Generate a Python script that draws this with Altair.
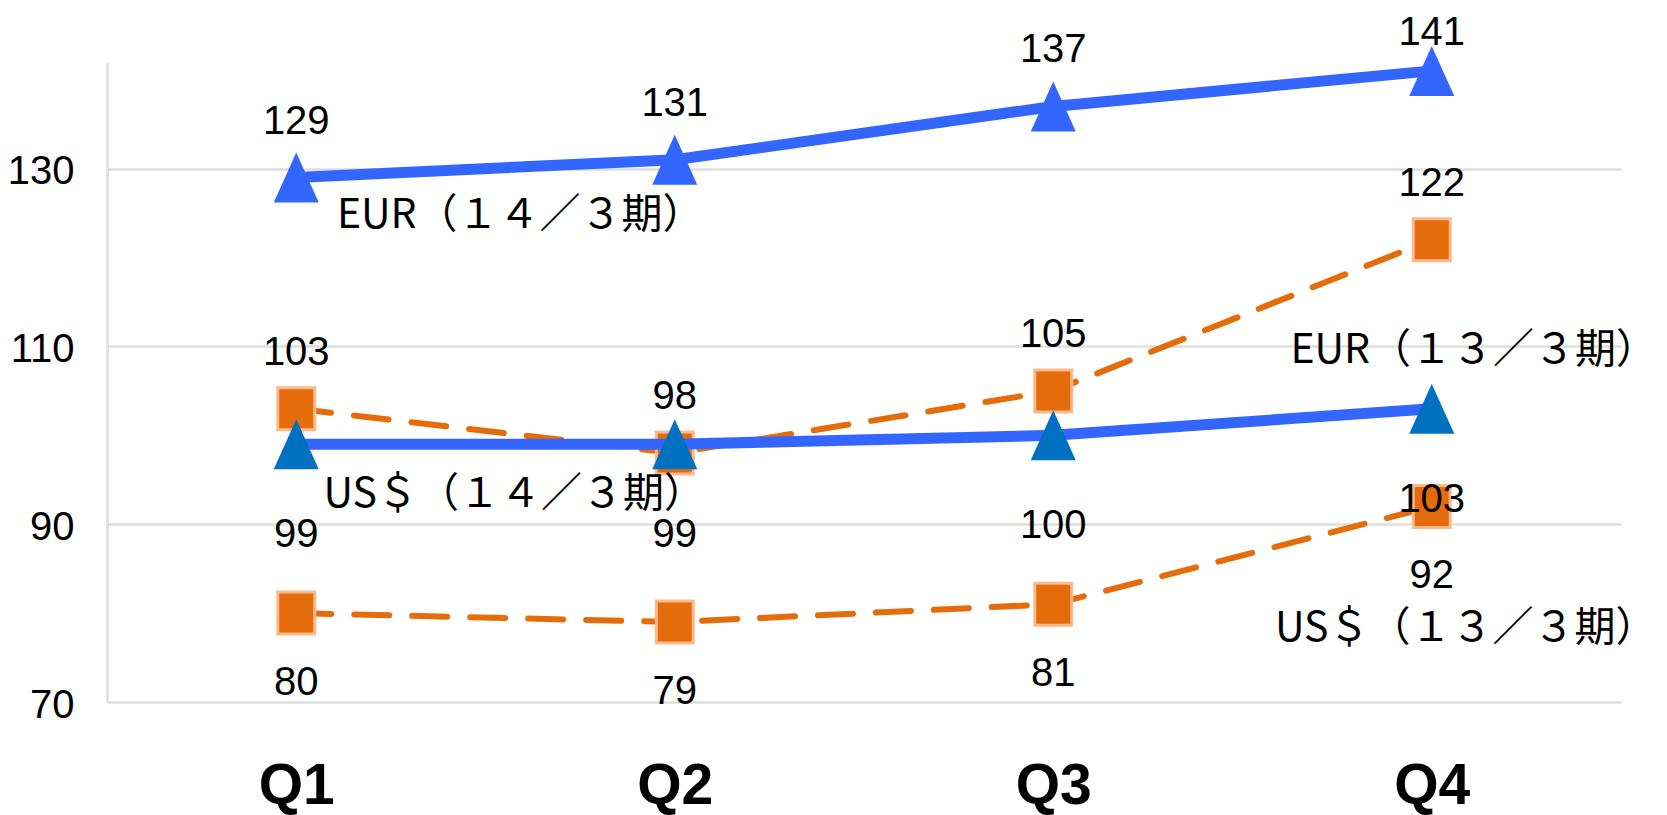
import altair as alt
import pandas as pd

quarters = ["Q1", "Q2", "Q3", "Q4"]
series_names = ["EUR（１４／３期）", "EUR（１３／３期）", "US＄（１４／３期）", "US＄（１３／３期）"]
eur_14 = [129, 131, 137, 141]
eur_13 = [103, 98, 105, 122]
usd_14 = [99, 99, 100, 103]
usd_13 = [80, 79, 81, 92]
y_ticks = [70, 90, 110, 130]

rows = []
for name, vals in zip(series_names, [eur_14, eur_13, usd_14, usd_13]):
    for q, v in zip(quarters, vals):
        rows.append({"quarter": q, "value": v, "series": name})
df = pd.DataFrame(rows)

EUR14, EUR13, USD14, USD13 = series_names
NUM_FONT = "Liberation Sans"
JP_FONT = "Noto Sans CJK JP"
ORANGE = "#E46C0A"
BLUE = "#3366FF"
NUM_SIZE = 40
Y_MAX = 142

x_enc = alt.X(
    "quarter:O",
    sort=quarters,
    scale=alt.Scale(type="point", padding=0.5),
    axis=alt.Axis(
        title=None, ticks=False, domain=False, grid=False, labelAngle=0,
        labelFont="Liberation Sans", labelFontSize=57, labelFontWeight="bold",
        labelColor="#000000", labelPadding=101, labelBaseline="alphabetic",
    ),
)
y_scale = alt.Scale(domain=[70, Y_MAX], nice=False, zero=False)
y_enc = alt.Y(
    "value:Q",
    scale=y_scale,
    axis=alt.Axis(
        title=None, values=y_ticks, ticks=False, grid=True,
        gridColor="#DEDEDE", gridWidth=2.5, domainColor="#DEDEDE", domainWidth=2.5,
        labelFont=NUM_FONT, labelFontSize=NUM_SIZE, labelColor="#000000",
        labelPadding=33, labelOffset=3,
    ),
)

base = alt.Chart(df).encode(x=x_enc, y=y_enc)


def only(names):
    return alt.FieldOneOfPredicate(field="series", oneOf=names)


orange_lines = base.transform_filter(only([EUR13, USD13])).mark_line(
    color=ORANGE, strokeWidth=6, strokeDash=[35, 23], strokeCap="round"
).encode(detail="series:N")

orange_pts = base.transform_filter(only([EUR13, USD13])).mark_point(
    shape="M-0.88,-1L0.88,-1L0.88,1L-0.88,1Z", size=1764, filled=True,
    fill=ORANGE, stroke="#FBB98C", strokeWidth=3, opacity=1,
)

blue_lines = base.transform_filter(only([EUR14, USD14])).mark_line(
    color=BLUE, strokeWidth=11, strokeJoin="round"
).encode(detail="series:N")

blue_pts = base.transform_filter(only([EUR14, USD14])).mark_point(
    shape="M0,-1L0.9,1L-0.9,1Z", size=2500, filled=True, opacity=1,
).encode(
    color=alt.Color("series:N", scale=alt.Scale(domain=[EUR14, USD14], range=[BLUE, "#0070C0"]), legend=None)
)


def value_labels(name, dy):
    return base.transform_filter(alt.datum.series == name).mark_text(
        font=NUM_FONT, fontSize=NUM_SIZE, color="#000000", baseline="alphabetic", dy=dy
    ).encode(text="value:Q")


# top series: keep labels inside the chart near the upper edge
eur14_labels = base.transform_filter(alt.datum.series == EUR14).transform_calculate(
    label_pos=f"min(datum.value, {Y_MAX} - 3)"
).mark_text(
    font=NUM_FONT, fontSize=NUM_SIZE, color="#000000", baseline="alphabetic", dy=-44
).encode(y=alt.Y("label_pos:Q", scale=y_scale), text="value:Q")


def series_label(name, quarter, dx, dy):
    return base.transform_filter(
        (alt.datum.series == name) & (alt.datum.quarter == quarter)
    ).mark_text(
        font=JP_FONT, fontSize=41, color="#000000", baseline="alphabetic",
        align="center", dx=dx, dy=dy,
    ).encode(text="series:N")


chart = alt.layer(
    orange_lines,
    orange_pts,
    blue_lines,
    blue_pts,
    eur14_labels,
    value_labels(EUR13, -44),
    value_labels(USD14, 103),
    value_labels(USD13, 82),
    series_label(EUR14, "Q1", 224, 50),
    series_label(USD14, "Q1", 218, 63),
    series_label(EUR13, "Q4", 42, 123),
    series_label(USD13, "Q4", 34, 135),
).properties(
    width=1514,
    height=640,
    autosize=alt.AutoSizeParams(type="none"),
    padding={"left": 99, "top": 54, "right": 38, "bottom": 113},
    background="#FFFFFF",
).configure_view(stroke=None)

chart.save("out.html", embed_options={"renderer": "svg", "actions": False})
